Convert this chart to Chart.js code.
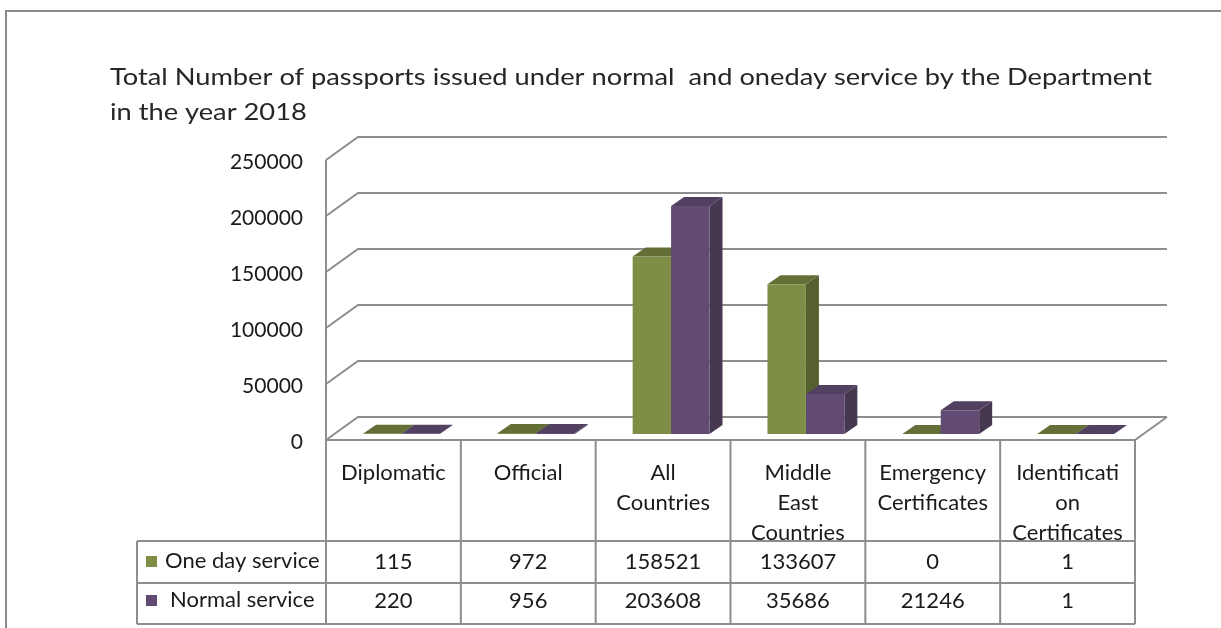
<!DOCTYPE html>
<html>
<head>
<meta charset="utf-8">
<script src="https://cdn.jsdelivr.net/npm/chart.js@4.4.1/dist/chart.umd.min.js"></script>
<style>
  html, body { margin: 0; padding: 0; background: #fff; }
</style>
</head>
<body>
<canvas id="chartjs-0" width="1221" height="628"></canvas>
<script>
"use strict";

// data
const categories = [["Diplomatic"], ["Official"], ["All", "Countries"], ["Middle", "East", "Countries"], ["Emergency", "Certificates"], ["Identificati", "on", "Certificates"]];
const oneDayService = [115, 972, 158521, 133607, 0, 1];
const normalService = [220, 956, 203608, 35686, 21246, 1];
const seriesNames = ["One day service", "Normal service"];
const yTicks = [0, 50000, 100000, 150000, 200000, 250000];
const chartTitle = ["Total Number of passports issued under normal  and oneday service by the Department", "in the year 2018"];

const GREEN = { front: "#7f8e46", side: "#56602f", top: "#636f37" };
const PURPLE = { front: "#614b73", side: "#463851", top: "#51405f" };
const shades = [GREEN, PURPLE];

// 3d offsets relative to the plane the bars stand on
const FRONT = { dx: -8, dy: 6 };
const BACK = { dx: 24, dy: -17 };
const BAR_DEPTH = { dx: 13, dy: -9 };
const LINE = "#8e8e8e";
const TEXT = "#1a1a1a";
const FONT = "Lato, 'Open Sans', sans-serif";

const depth3d = {
    id: "depth3d",
    beforeDatasetsDraw(chart) {
        const ctx = chart.ctx;
        const a = chart.chartArea;
        const y = chart.scales.y;
        ctx.save();
        ctx.strokeStyle = LINE;
        ctx.lineWidth = 2;

        // walls
        yTicks.forEach(v => {
            const py = y.getPixelForValue(v);
            ctx.beginPath();
            ctx.moveTo(a.left + FRONT.dx, py + FRONT.dy);
            ctx.lineTo(a.left + BACK.dx, py + BACK.dy);
            ctx.lineTo(a.right + BACK.dx, py + BACK.dy);
            ctx.stroke();
        });
        const p0 = y.getPixelForValue(0);
        const pTop = y.getPixelForValue(yTicks[yTicks.length - 1]);
        ctx.beginPath();
        ctx.moveTo(a.left + FRONT.dx, pTop + FRONT.dy);
        ctx.lineTo(a.left + FRONT.dx, p0 + FRONT.dy);
        ctx.lineTo(a.right + FRONT.dx, p0 + FRONT.dy);
        ctx.lineTo(a.right + BACK.dx, p0 + BACK.dy);
        ctx.stroke();

        // sides and tops of the columns
        chart.data.datasets.forEach((ds, i) => {
            const meta = chart.getDatasetMeta(i);
            meta.data.forEach(bar => {
                const p = bar.getProps(["x", "y", "base", "width"], true);
                const l = p.x - p.width / 2, r = p.x + p.width / 2;
                ctx.fillStyle = shades[i].side;
                ctx.beginPath();
                ctx.moveTo(r, p.y);
                ctx.lineTo(r + BAR_DEPTH.dx, p.y + BAR_DEPTH.dy);
                ctx.lineTo(r + BAR_DEPTH.dx, p.base + BAR_DEPTH.dy);
                ctx.lineTo(r, p.base);
                ctx.closePath();
                ctx.fill();
                ctx.fillStyle = shades[i].top;
                ctx.beginPath();
                ctx.moveTo(l, p.y);
                ctx.lineTo(r, p.y);
                ctx.lineTo(r + BAR_DEPTH.dx, p.y + BAR_DEPTH.dy);
                ctx.lineTo(l + BAR_DEPTH.dx, p.y + BAR_DEPTH.dy);
                ctx.closePath();
                ctx.fill();
            });
        });
        ctx.restore();
    },
    afterDraw(chart) {
        const ctx = chart.ctx;
        const a = chart.chartArea;
        const y = chart.scales.y;
        const cw = (a.right - a.left) / categories.length;
        const x0 = a.left + FRONT.dx;
        const headTop = y.getPixelForValue(0) + FRONT.dy;
        const rows = [541, 583, 624];
        const legLeft = 137;

        ctx.save();
        // outer frame
        ctx.strokeStyle = "#8a8a8a";
        ctx.lineWidth = 2;
        ctx.beginPath();
        ctx.moveTo(6, 628);
        ctx.lineTo(6, 11);
        ctx.lineTo(1221, 11);
        ctx.stroke();

        // title, stretched sideways to the width it has in the picture
        ctx.fillStyle = "#262626";
        ctx.textBaseline = "middle";
        ctx.textAlign = "left";
        ctx.font = "24px " + FONT;
        const sx = 1042 / ctx.measureText(chartTitle[0]).width;
        ctx.save();
        ctx.translate(110, 0);
        ctx.scale(sx, 1);
        ctx.fillText(chartTitle[0], 0, 77);
        ctx.fillText(chartTitle[1], 0, 112);
        ctx.restore();

        // data table
        ctx.strokeStyle = LINE;
        ctx.lineWidth = 2;
        ctx.beginPath();
        for (let k = 0; k <= categories.length; k++) {
            ctx.moveTo(x0 + k * cw, headTop);
            ctx.lineTo(x0 + k * cw, rows[2]);
        }
        rows.forEach(r => {
            ctx.moveTo(legLeft, r);
            ctx.lineTo(x0 + categories.length * cw, r);
        });
        ctx.moveTo(legLeft, rows[0]);
        ctx.lineTo(legLeft, rows[2]);
        ctx.stroke();

        ctx.fillStyle = TEXT;
        ctx.textAlign = "center";
        ctx.font = "22px " + FONT;
        categories.forEach((lines, k) => {
            const cx = x0 + (k + 0.5) * cw;
            lines.forEach((t, j) => ctx.fillText(t, cx, 473 + j * 30));
            ctx.fillText(String(oneDayService[k]), cx, 562);
            ctx.fillText(String(normalService[k]), cx, 601);
        });

        ctx.textAlign = "left";
        const rowMid = [561, 600];
        seriesNames.forEach((name, i) => {
            ctx.fillStyle = shades[i].front;
            ctx.fillRect(146, rowMid[i] - 5, 11, 11);
            ctx.fillStyle = TEXT;
            ctx.fillText(name, 165 + i * 5, rowMid[i]);
        });
        ctx.restore();
    }
};

const ctx = document.getElementById("chartjs-0");
const myChart = new Chart(ctx, {
    type: "bar",
    data: {
        labels: categories,
        datasets: [{
            label: seriesNames[0],
            data: oneDayService,
            backgroundColor: GREEN.front,
            borderWidth: 0,
            categoryPercentage: 0.57,
            barPercentage: 1
        }, {
            label: seriesNames[1],
            data: normalService,
            backgroundColor: PURPLE.front,
            borderWidth: 0,
            categoryPercentage: 0.57,
            barPercentage: 1
        }]
    },
    options: {
        responsive: false,
        animation: false,
        layout: { padding: { top: 154, bottom: 194, right: 78, left: 0 } },
        plugins: {
            legend: { display: false },
            title: { display: false },
            tooltip: { enabled: false }
        },
        scales: {
            x: { display: false },
            y: {
                min: 0,
                max: 250000,
                afterBuildTicks: s => { s.ticks = yTicks.map(v => ({ value: v })); },
                afterFit: s => { s.width = 334; },
                grid: { display: false, drawTicks: false },
                border: { display: false },
                ticks: {
                    padding: 31,
                    labelOffset: 8,
                    color: "#1a1a1a",
                    font: { family: FONT, size: 21 },
                    callback: v => String(v)
                }
            }
        }
    },
    plugins: [depth3d]
});
</script>
</body>
</html>
